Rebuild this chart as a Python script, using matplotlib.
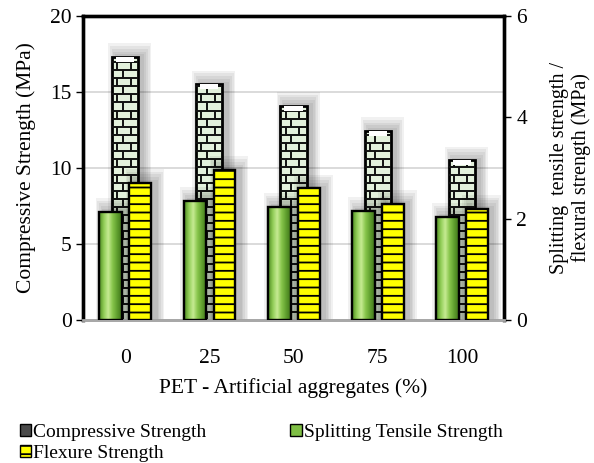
import numpy as np
import matplotlib
matplotlib.use("Agg")
import matplotlib.pyplot as plt
from matplotlib.patches import Patch
from matplotlib.collections import LineCollection
from matplotlib.colors import LinearSegmentedColormap

plt.rcParams['font.family'] = ['Liberation Serif', 'DejaVu Serif']
plt.rcParams['font.size'] = 15.5
plt.rcParams['hatch.linewidth'] = 1.3

pet = ['0', '25', '50', '75', '100']
compressive = [17.3, 15.5, 14.1, 12.45, 10.5]   # MPa, left axis
splitting = [2.14, 2.35, 2.24, 2.15, 2.04]      # MPa, right axis
flexure = [2.71, 2.96, 2.60, 2.29, 2.20]        # MPa, right axis

x = np.arange(len(pet))

fig = plt.figure(figsize=(5.94, 4.63), dpi=100)
ax = fig.add_axes([83/594, 1-320/463, (504-83)/594, (320-16)/463])
ax2 = ax.twinx()


def shadow(a, xc, w, h, top):
    # soft grey glow, shifted a little to the right
    step_x = 0.02
    step_y = top * 0.009
    for k in range(1, 6):
        a.bar(xc + 0.055, h + k*step_y, width=w + 2*k*step_x, bottom=0,
              color='black', alpha=0.055, linewidth=0, zorder=1)


# compressive strength: brick bars
wc = 0.31
for xi, h in zip(x, compressive):
    shadow(ax, xi, wc, h, 20)
for xi, h in zip(x, compressive):
    b = ax.bar(xi, h, width=wc, color='#e3f1dc', edgecolor='black',
               linewidth=2.0, zorder=3)[0]
    row = 0.53
    segs = []
    y0 = 0.0
    i = 0
    while y0 < h:
        segs.append([(xi - wc/2, y0), (xi + wc/2, y0)])
        y1 = min(y0 + row, h)
        if i % 2 == 0:
            joints = [xi - 0.03]
        else:
            joints = [xi - wc/2 + 0.06, xi + wc/2 - 0.09]
        for jx in joints:
            segs.append([(jx, y0), (jx, y1)])
        y0 += row
        i += 1
    lc = LineCollection(segs, colors='#111111', linewidths=1.4, zorder=4)
    lc.set_clip_path(b)
    ax.add_collection(lc)
    # pale cap at the top of each column
    ax.bar(xi, row*0.6, bottom=h - row*0.6, width=wc*0.7, color='white',
           linewidth=0, zorder=4)

# splitting tensile: green gradient bars
ws = 0.27
off_s = -0.17
green = LinearSegmentedColormap.from_list(
    'grn', ['#4e8a22', '#8fcc55', '#c6eb92', '#86c44a', '#5f9e2e', '#3f7419'])
grad = np.linspace(0, 1, 64).reshape(1, -1)
for xi, h in zip(x, splitting):
    shadow(ax2, xi + off_s, ws, h, 6)
for xi, h in zip(x, splitting):
    b = ax2.bar(xi + off_s, h, width=ws, color='none', edgecolor='black',
                linewidth=1.7, zorder=6)[0]
    im = ax2.imshow(grad, cmap=green, aspect='auto', zorder=5,
                    extent=(xi + off_s - ws/2, xi + off_s + ws/2, 0, h))
    im.set_clip_path(b)

# flexure: yellow bars with horizontal lines
wf = 0.26
off_f = 0.18
for xi, h in zip(x, flexure):
    shadow(ax2, xi + off_f, wf, h, 6)
ax2.bar(x + off_f, flexure, width=wf, color='#ffff00', edgecolor='black',
        linewidth=1.7, hatch='--', zorder=7)

ax.set_xlim(-0.5, 4.5)
ax.set_ylim(0, 20)
ax2.set_ylim(0, 6)
ax.set_yticks([0, 5, 10, 15, 20])
ax2.set_yticks([0, 2, 4, 6])
ax.set_xticks(x)
ax.set_xticklabels(pet)
ax.tick_params(axis='x', length=0, pad=21)
ax.tick_params(axis='y', length=5, width=1, pad=3)
ax2.tick_params(axis='y', length=5, width=1, pad=4)

ax.set_axisbelow(True)
ax.yaxis.grid(True, color='#d4d4d4', linewidth=1.2)

for a in (ax, ax2):
    for s in ('left', 'right', 'top'):
        a.spines[s].set_linewidth(2.4)
        a.spines[s].set_color('black')
    a.spines['bottom'].set_color('#a8a8a8')
    a.spines['bottom'].set_linewidth(2.0)

ax.set_xlabel('PET - Artificial aggregates (%)', labelpad=7)
ax.set_ylabel('Compressive Strength (MPa)')
ax.yaxis.set_label_coords(-0.112, 0.5)
ax2.set_ylabel('Splitting  tensile strength /\nflexural strength (MPa)',
               fontsize=14.5, linespacing=1.15)
ax2.yaxis.set_label_coords(1.11, 0.5)

handles = [
    Patch(facecolor='#4a4a4a', edgecolor='black', linewidth=1),
    Patch(facecolor='#ffff00', edgecolor='black', hatch='--', linewidth=1),
    Patch(facecolor='#7fbf45', edgecolor='black', linewidth=1),
]
labels = ['Compressive Strength', 'Flexure Strength',
          'Splitting Tensile Strength']
fig.legend(handles, labels, ncol=2, loc='upper left', fontsize=14,
           bbox_to_anchor=(10/594, 1-414/463), frameon=False,
           handlelength=0.6, handleheight=0.6, handletextpad=0.1,
           columnspacing=4.3, labelspacing=0.2, borderpad=0)

fig.savefig('out.png', dpi=100)
